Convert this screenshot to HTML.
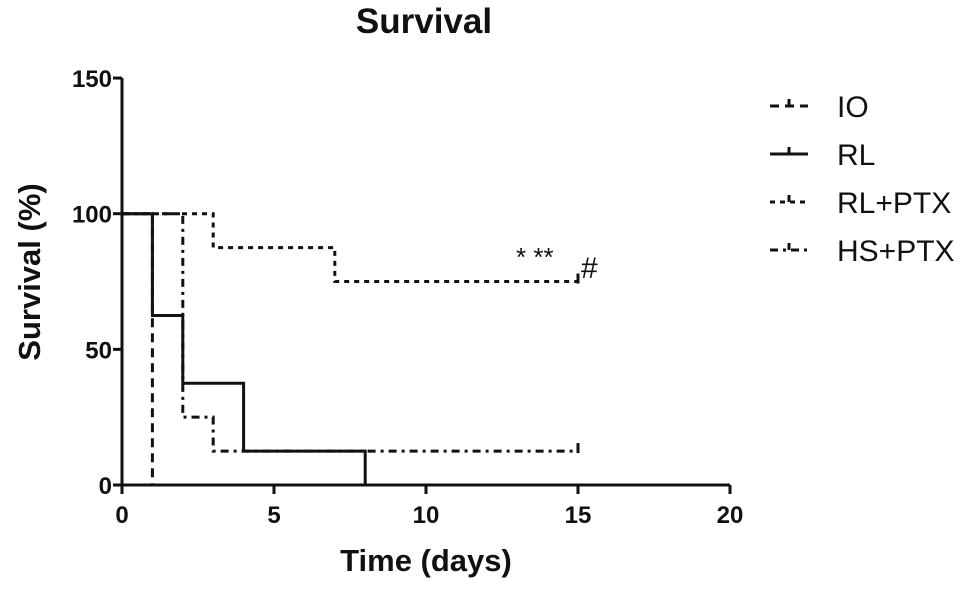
<!DOCTYPE html>
<html><head><meta charset="utf-8"><style>
body{margin:0;background:#fff}
svg text{font-family:"Liberation Sans",Arial,sans-serif;fill:#111}
</style></head><body>
<svg id="c" width="968" height="599">
<text x="424" y="33" font-size="35" font-weight="bold" text-anchor="middle">Survival</text>
<text x="426" y="571" font-size="31" font-weight="bold" text-anchor="middle">Time (days)</text>
<text transform="translate(40,272) rotate(-90)" font-size="31" font-weight="bold" text-anchor="middle">Survival (%)</text>
<g id="axes"></g><g id="series"></g><g id="legend"></g>
<text x="516" y="266" font-size="26">*  **</text>
<text x="581" y="278" font-size="30">#</text>
</svg>
<script>
const xTicks=[0,5,10,15,20];
const yTicks=[0,50,100,150];
const seriesNames=["IO","RL","RL+PTX","HS+PTX"];
const ioTimes=[0,1,1];const ioVals=[100,100,0];
const rlTimes=[0,1,2,4,8];const rlVals=[100,62.5,37.5,12.5,0];
const rlptxTimes=[0,3,7,15];const rlptxVals=[100,87.5,75,75];
const hsptxTimes=[0,2,3,15];const hsptxVals=[100,25,12.5,12.5];
const NS="http://www.w3.org/2000/svg";
const X=t=>122+t*30.4, Y=v=>485-v*2.713;
function mk(tag,attrs,parent){const e=document.createElementNS(NS,tag);for(const k in attrs)e.setAttribute(k,attrs[k]);parent.appendChild(e);return e;}
const ax=document.getElementById('axes');
let l=mk('line',{x1:X(0),y1:Y(0),x2:X(20),y2:Y(0),stroke:'#111','stroke-width':3},ax);


l=mk('line',{x1:X(0),y1:Y(0),x2:X(0),y2:Y(150),stroke:'#111','stroke-width':3},ax);


xTicks.forEach(t=>{mk('line',{x1:X(t),y1:Y(0),x2:X(t),y2:Y(0)+9,stroke:'#111','stroke-width':3},ax);
const tx=mk('text',{x:X(t),y:Y(0)+38,'font-size':24,'font-weight':'bold','text-anchor':'middle'},ax);tx.textContent=t;

});
yTicks.forEach(v=>{mk('line',{x1:X(0)-9,y1:Y(v),x2:X(0),y2:Y(v),stroke:'#111','stroke-width':3},ax);
const tx=mk('text',{x:X(0)-10,y:Y(v)+9,'font-size':24,'font-weight':'bold','text-anchor':'end'},ax);tx.textContent=v;

});
const styles=[{d:'9,6',w:3},{d:'none',w:3},{d:'5,5',w:3},{d:'8,5,3,5',w:3}];
const data=[[ioTimes,ioVals],[rlTimes,rlVals],[rlptxTimes,rlptxVals],[hsptxTimes,hsptxVals]];
const sg=document.getElementById('series');
data.forEach(([ts,vs],i)=>{let d=`M${X(ts[0])},${Y(vs[0])}`;for(let k=1;k<ts.length;k++){d+=`H${X(ts[k])}V${Y(vs[k])}`;}
const p=mk('path',{d,fill:'none',stroke:'#111','stroke-width':styles[i].w,'stroke-dasharray':styles[i].d},sg);


if(vs[vs.length-1]>0){mk('line',{x1:X(ts[ts.length-1]),y1:Y(vs[vs.length-1])-8,x2:X(ts[ts.length-1]),y2:Y(vs[vs.length-1])+2,stroke:'#111','stroke-width':3},sg);}
});
const lg=document.getElementById('legend');
seriesNames.forEach((n,i)=>{const y=106+i*48;
mk('line',{x1:770,y1:y,x2:808,y2:y,stroke:'#111','stroke-width':3,'stroke-dasharray':styles[i].d},lg);
mk('line',{x1:789,y1:y-7,x2:789,y2:y,stroke:'#111','stroke-width':3},lg);
const t=mk('text',{x:837,y:y+11,'font-size':30},lg);t.textContent=n;

});
</script>
</body></html>
